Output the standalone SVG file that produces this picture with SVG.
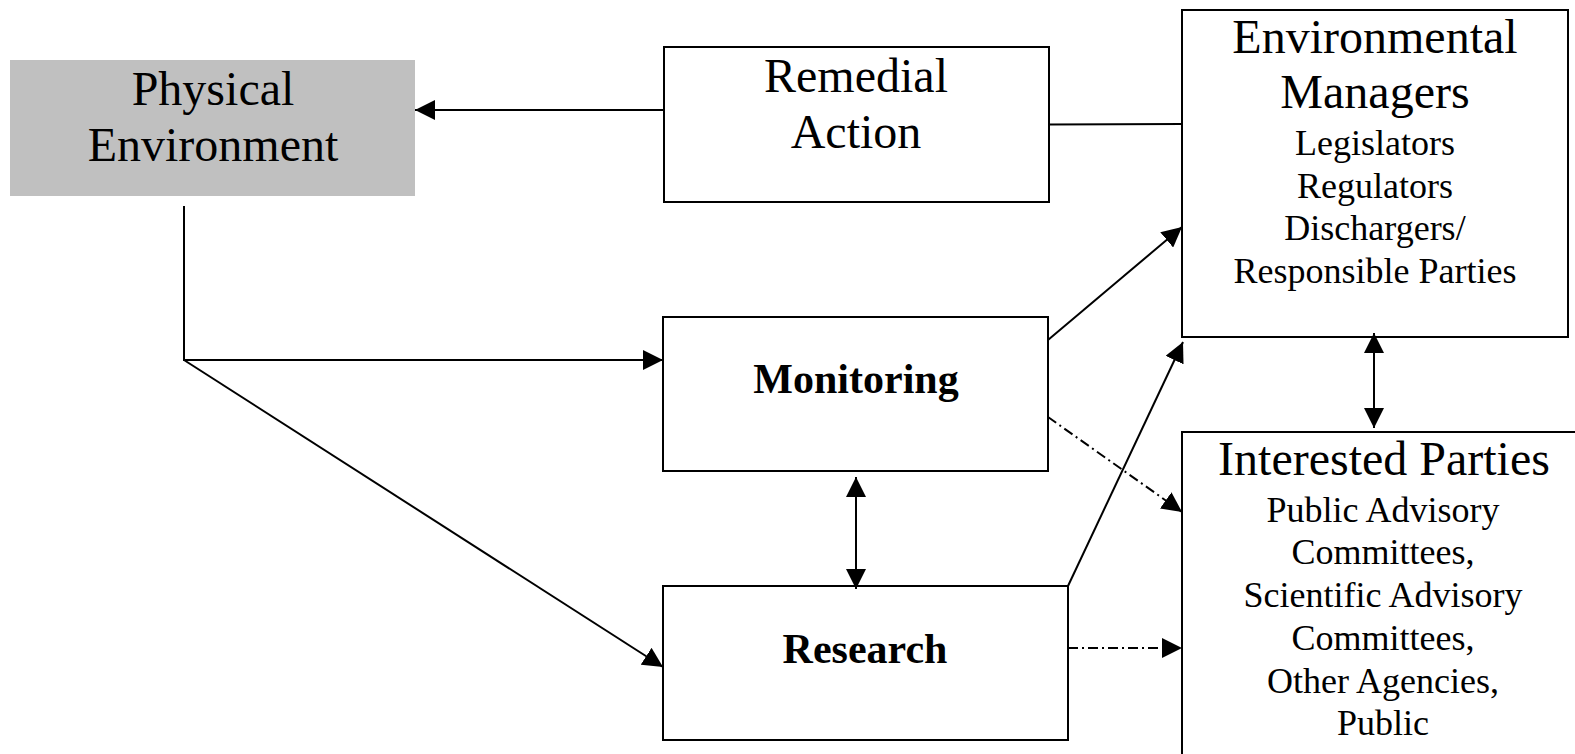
<svg xmlns="http://www.w3.org/2000/svg" width="1575" height="754" viewBox="0 0 1575 754">
<style>
  .box { fill: #ffffff; stroke: #000000; stroke-width: 2; }
  .grey { fill: #c0c0c0; stroke: none; }
  .t { font-family: "Liberation Serif", "Times New Roman", serif; fill: #000000; text-anchor: middle; }
  .big { font-size: 48px; }
  .small { font-size: 36px; }
  .bold { font-size: 42px; font-weight: bold; }
  .ln { fill: none; stroke: #000000; stroke-width: 2; }
  .dd { stroke-dasharray: 10 4 2 4; }
  .arr { marker-end: url(#ah); }
  .dbl { marker-start: url(#ah); marker-end: url(#ah); }
</style>
<defs>
  <marker id="ah" viewBox="0 0 20 20" markerWidth="20" markerHeight="20" refX="20" refY="10" markerUnits="userSpaceOnUse" orient="auto-start-reverse">
    <path d="M0,0 L20,10 L0,20 z" fill="#000000"/>
  </marker>
</defs>
<rect width="1575" height="754" fill="#ffffff"/>

<g id="physical-environment">
  <rect class="grey" x="10" y="60" width="405" height="136"/>
  <text class="t big" x="213" y="105">Physical</text>
  <text class="t big" x="213" y="161">Environment</text>
</g>

<g id="remedial-action">
  <rect class="box" x="664" y="47" width="385" height="155"/>
  <text class="t big" x="856" y="92">Remedial</text>
  <text class="t big" x="856" y="148">Action</text>
</g>

<g id="environmental-managers">
  <rect class="box" x="1182" y="10" width="386" height="327"/>
  <text class="t big" x="1375" y="53">Environmental</text>
  <text class="t big" x="1375" y="108">Managers</text>
  <text class="t small" x="1375" y="155">Legislators</text>
  <text class="t small" x="1375" y="198">Regulators</text>
  <text class="t small" x="1375" y="240">Dischargers/</text>
  <text class="t small" x="1375" y="283">Responsible Parties</text>
</g>

<g id="monitoring">
  <rect class="box" x="663" y="317" width="385" height="154"/>
  <text class="t bold" x="856" y="393">Monitoring</text>
</g>

<g id="research">
  <rect class="box" x="663" y="586" width="405" height="154"/>
  <text class="t bold" x="865" y="663">Research</text>
</g>

<g id="interested-parties">
  <rect class="box" x="1182" y="432" width="402" height="340"/>
  <text class="t big" x="1384" y="475">Interested Parties</text>
  <text class="t small" x="1383" y="522">Public Advisory</text>
  <text class="t small" x="1383" y="564">Committees,</text>
  <text class="t small" x="1383" y="607">Scientific Advisory</text>
  <text class="t small" x="1383" y="650">Committees,</text>
  <text class="t small" x="1383" y="693">Other Agencies,</text>
  <text class="t small" x="1383" y="735">Public</text>
</g>

<g id="connectors">
  <line class="ln arr" x1="664" y1="110" x2="415" y2="110"/>
  <line class="ln" x1="1049" y1="124.5" x2="1182" y2="124"/>
  <polyline class="ln" points="184,206 184,360 643,360"/>
  <line class="ln arr" x1="184" y1="360" x2="663" y2="360"/>
  <line class="ln arr" x1="184" y1="360" x2="663" y2="667"/>
  <line class="ln dbl" x1="856" y1="477" x2="856" y2="589"/>
  <line class="ln arr" x1="1048" y1="340" x2="1182" y2="227"/>
  <line class="ln arr" x1="1068" y1="586" x2="1183" y2="342"/>
  <line class="ln dd arr" x1="1048" y1="417" x2="1182" y2="512"/>
  <line class="ln dd arr" x1="1068" y1="648" x2="1182" y2="648"/>
  <line class="ln dbl" x1="1374" y1="333" x2="1374" y2="428"/>
</g>
</svg>
